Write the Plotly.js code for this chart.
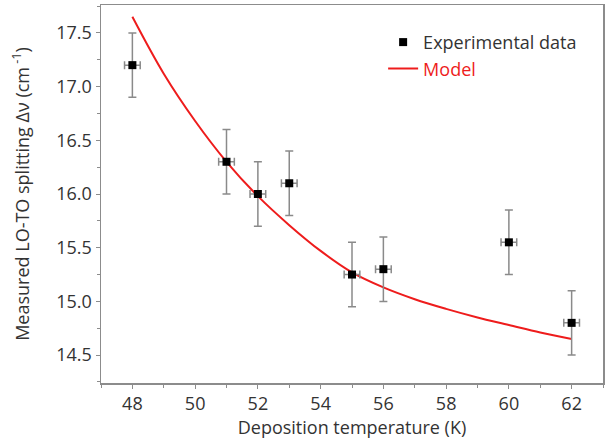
<!DOCTYPE html>
<html>
<head>
<meta charset="utf-8">
<script src="https://cdn.plot.ly/plotly-3.0.1.min.js"></script>
<style>html,body{margin:0;padding:0;background:#fff;}#chart{width:611px;height:445px;}</style>
</head>
<body>
<div id="chart"></div>
<script>
// Experimental data
const expTemp = [48, 51, 52, 53, 55, 56, 60, 62];
const expSplit = [17.2, 16.3, 16.0, 16.1, 15.25, 15.3, 15.55, 14.8];
const expErrY = [0.3, 0.3, 0.3, 0.3, 0.3, 0.3, 0.3, 0.3];
const expErrX = [0.25, 0.25, 0.25, 0.25, 0.25, 0.25, 0.25, 0.25];

// Model curve
const modelTemp = [48, 49, 50, 51, 52, 53, 54, 55, 56, 57, 58, 59, 60, 61, 62];
const modelSplit = [17.65, 17.12, 16.68, 16.30, 15.98, 15.71, 15.47, 15.27, 15.13, 15.02, 14.93, 14.85, 14.78, 14.71, 14.65];

const xTickVals = [48, 50, 52, 54, 56, 58, 60, 62];
const yTickVals = [14.5, 15.0, 15.5, 16.0, 16.5, 17.0, 17.5];

const FONT = '"Open Sans", Lato, sans-serif';
const axisGray = '#8c8c8c';

const traces = [
  {
    x: modelTemp, y: modelSplit, type: 'scatter', mode: 'lines',
    name: '<span style="color:#ee1c1c">Model</span>',
    line: {color: '#ee1c1c', width: 2, shape: 'spline'},
    hoverinfo: 'skip'
  },
  {
    x: expTemp, y: expSplit, type: 'scatter', mode: 'markers',
    name: 'Experimental data',
    marker: {symbol: 'square', size: 8, color: '#000'},
    error_y: {type: 'data', array: expErrY, visible: true, color: '#8a8a8a', thickness: 1.5, width: 4},
    error_x: {type: 'data', array: expErrX, visible: true, color: '#8a8a8a', thickness: 1.5, width: 4}
  }
];

const layout = {
  width: 611, height: 445,
  margin: {l: 101, r: 8, t: 5, b: 62},
  paper_bgcolor: '#fff', plot_bgcolor: '#fff',
  font: {family: FONT, size: 18, color: '#333'},
  showlegend: true,
  legend: {
    x: 0.562, y: 0.95, xanchor: 'left', yanchor: 'top',
    bgcolor: 'rgba(0,0,0,0)', borderwidth: 0,
    font: {family: FONT, size: 18, color: '#333'},
    traceorder: 'reversed', tracegroupgap: 0
  },
  xaxis: {
    range: [47, 63],
    tickvals: xTickVals, ticktext: xTickVals.map(String),
    ticks: 'outside', ticklen: 4, tickwidth: 1, tickcolor: axisGray,
    minor: {dtick: 1, tick0: 47, ticks: 'outside', ticklen: 3, tickcolor: axisGray, showgrid: false},
    showline: true, linecolor: axisGray, linewidth: 1.5, mirror: true,
    showgrid: false, zeroline: false,
    tickfont: {family: FONT, size: 18, color: '#333'},
    title: {text: 'Deposition temperature (K)', font: {family: FONT, size: 18, color: '#333'}, standoff: 4}
  },
  yaxis: {
    range: [14.24, 17.76],
    tickvals: yTickVals, ticktext: yTickVals.map(v => v.toFixed(1)),
    ticks: 'outside', ticklen: 4, tickwidth: 1, tickcolor: axisGray,
    minor: {dtick: 0.25, tick0: 14.25, ticks: 'outside', ticklen: 3, tickcolor: axisGray, showgrid: false},
    showline: true, linecolor: axisGray, linewidth: 1.5, mirror: true,
    showgrid: false, zeroline: false,
    tickfont: {family: FONT, size: 18, color: '#333'},
    title: {text: 'Measured LO-TO splitting \u0394\u03bd (cm<sup> -1</sup>)', font: {family: FONT, size: 18, color: '#333'}, standoff: 22}
  }
};

Plotly.newPlot('chart', traces, layout, {displayModeBar: false, staticPlot: true});
</script>
</body>
</html>
